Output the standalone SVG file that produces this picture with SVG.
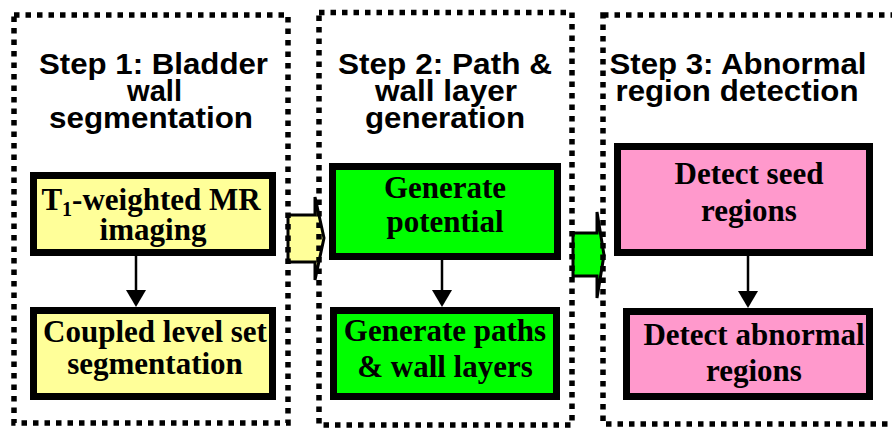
<svg xmlns="http://www.w3.org/2000/svg" width="892" height="431" viewBox="0 0 892 431">
  <style>
    .panel { fill: none; stroke: #000; stroke-width: 5.5; stroke-dasharray: 5.5 6; }
    .title { font-family: "Liberation Sans", Arial, sans-serif; font-weight: bold; font-size: 30px; fill: #000; text-anchor: middle; }
    .box { stroke: #000; stroke-width: 7; }
    .yellow { fill: #FFFF99; }
    .green { fill: #00FF00; }
    .pink { fill: #FF99CC; }
    .label { font-family: "Liberation Serif", "Times New Roman", serif; font-weight: bold; font-size: 31px; fill: #000; text-anchor: middle; }
    .link { stroke: #000; stroke-width: 2.5; fill: none; }
    .head { fill: #000; }
    .block { stroke: #000; stroke-width: 3; stroke-linejoin: miter; }
  </style>
  <rect width="892" height="431" fill="#fff"/>

  <!-- block arrows between the stages -->
  <g id="stage-arrows">
    <polygon class="block yellow" points="288,215 315,215 315,197 324,238 315,280 315,262 288,262"/>
    <polygon class="block green" points="573,233 597,233 597,212 604,255 597,298 597,276 573,276"/>
  </g>

  <!-- stage frames with titles -->
  <g id="step1">
    <rect class="panel" x="14" y="15" width="274" height="408"/>
    <text class="title" x="153.5" y="74" textLength="229" lengthAdjust="spacingAndGlyphs">Step 1: Bladder</text>
    <text class="title" x="154.5" y="101" textLength="55" lengthAdjust="spacingAndGlyphs">wall</text>
    <text class="title" x="151" y="128" textLength="204" lengthAdjust="spacingAndGlyphs">segmentation</text>
  </g>
  <g id="step2">
    <rect class="panel" x="319" y="12.5" width="253" height="412.5"/>
    <text class="title" x="445" y="74" textLength="214" lengthAdjust="spacingAndGlyphs">Step 2: Path &amp;</text>
    <text class="title" x="446" y="101" textLength="142" lengthAdjust="spacingAndGlyphs">wall layer</text>
    <text class="title" x="445" y="128" textLength="160" lengthAdjust="spacingAndGlyphs">generation</text>
  </g>
  <g id="step3">
    <rect class="panel" x="603" y="15" width="300" height="409"/>
    <text class="title" x="738" y="74" textLength="257" lengthAdjust="spacingAndGlyphs">Step 3: Abnormal</text>
    <text class="title" x="737" y="101" textLength="243" lengthAdjust="spacingAndGlyphs">region detection</text>
  </g>

  <!-- process boxes -->
  <g id="mr-imaging">
    <rect class="box yellow" x="33.5" y="175.5" width="239" height="77"/>
    <text class="label" x="151" y="210">T<tspan font-size="20" dy="6">1</tspan><tspan dy="-6">-weighted MR</tspan></text>
    <text class="label" x="153" y="240">imaging</text>
  </g>
  <g id="level-set">
    <rect class="box yellow" x="33.5" y="310.5" width="239" height="86"/>
    <text class="label" x="155" y="342">Coupled level set</text>
    <text class="label" x="155" y="374">segmentation</text>
  </g>
  <g id="potential">
    <rect class="box green" x="332.5" y="166.5" width="225" height="90"/>
    <text class="label" x="445" y="198">Generate</text>
    <text class="label" x="445" y="232">potential</text>
  </g>
  <g id="paths-layers">
    <rect class="box green" x="333.5" y="310.5" width="223" height="86"/>
    <text class="label" x="445" y="341">Generate paths</text>
    <text class="label" x="445" y="377">&amp; wall layers</text>
  </g>
  <g id="seed-regions">
    <rect class="box pink" x="617.5" y="146.5" width="252" height="106"/>
    <text class="label" x="749" y="184">Detect seed</text>
    <text class="label" x="749" y="221">regions</text>
  </g>
  <g id="abnormal-regions">
    <rect class="box pink" x="626.5" y="311.5" width="243" height="85"/>
    <text class="label" x="754" y="345">Detect abnormal</text>
    <text class="label" x="754" y="381">regions</text>
  </g>

  <!-- connectors inside each stage -->
  <g id="connectors">
    <line class="link" x1="136" y1="256" x2="136" y2="291"/>
    <polygon class="head" points="126,290 146,290 136,307"/>
    <line class="link" x1="442" y1="260" x2="442" y2="291"/>
    <polygon class="head" points="432,290 452,290 442,307"/>
    <line class="link" x1="748" y1="256" x2="748" y2="292"/>
    <polygon class="head" points="738,291 758,291 748,308"/>
  </g>
</svg>
